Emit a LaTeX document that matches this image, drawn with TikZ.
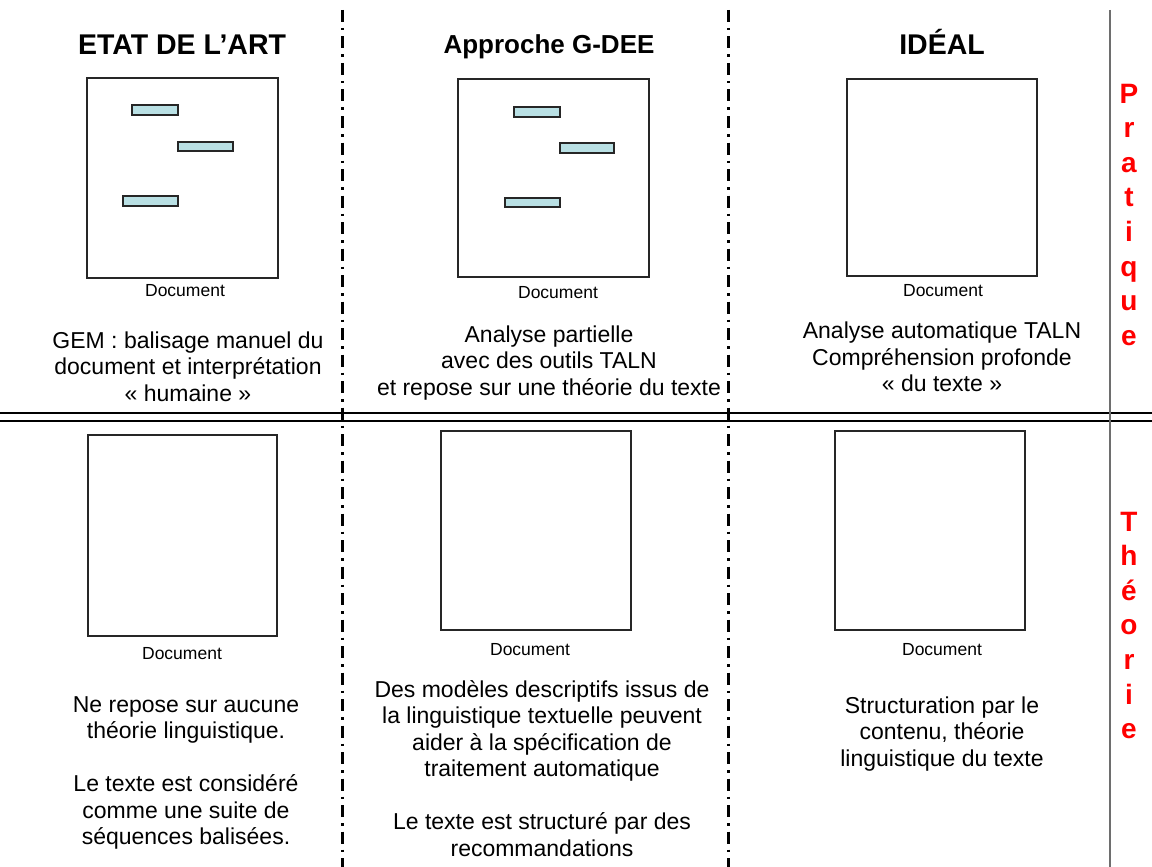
\documentclass[tikz,border=0pt]{standalone}
\usepackage{fontspec}
\setmainfont{Liberation Sans}
\usetikzlibrary{calc}
\definecolor{barfill}{RGB}{185,224,228}
\definecolor{sidegrey}{RGB}{110,110,110}

\begin{document}
\begin{tikzpicture}[x = 1pt, y = -1pt,
    title/.style = {font=\fontsize{28.5}{33}\selectfont\bfseries},
    doclabel/.style = {font=\fontsize{17.5}{20}\selectfont},
    comment/.style = {font=\fontsize{23}{26.5}\selectfont, align=center},
    docbox/.style = {draw=black!85, line width=1.3pt, inner sep=0pt},
    bar/.style = {draw=black!85, fill=barfill, line width=1.3pt},
    letter/.style = {font=\fontsize{28}{34}\selectfont\bfseries, text=red, anchor=base, inner sep=0pt},
    divider/.style = {line width=3pt, dash pattern=on 12pt off 6pt on 2.5pt off 6pt}]
    \useasboundingbox (0,0) rectangle (1152,867);

    % separateurs
    \draw[divider] (342,10) -- (342,867);
    \draw[divider] (728,10) -- (728,867);
    \draw[line width=1.3pt] (0,413) -- (1152,413);
    \draw[line width=1.3pt] (0,421) -- (1152,421);
    \draw[sidegrey, line width=2pt] (1110,10) -- (1110,867);

    % titres
    \node[title] (titleEtat) at (182,45) {ETAT DE L’ART};
    \node[title, font=\fontsize{26}{30}\selectfont\bfseries] (titleGdee) at (549,47) {Approche G-DEE};
    \node[title] (titleIdeal) at (942,42) {IDÉAL};

    % documents
    \foreach \cx/\cy/\w/\h [count=\i] in {182.5/178/191/200, 553.5/178/191/198, 942/177.5/190/197,
                                         182.5/535.5/189/201, 536/530.5/190/199, 930/530.5/190/199}{
        \node[docbox, minimum width=\w pt, minimum height=\h pt] (box\i) at (\cx,\cy) {};
    }
    \foreach \xa/\ya/\xb/\yb in {132/105/178/115, 178/142/233/151, 123/196/178/206,
                                 514/107/560/117, 560/143/614/153, 505/198/560/207}{
        \draw[bar] (\xa,\ya) rectangle (\xb,\yb);
    }
    \foreach \lx/\ly [count=\i] in {185/291, 558/293, 943/291, 182/654, 530/650, 942/650}{
        \node[doclabel] (doc\i) at (\lx,\ly) {Document};
    }

    % commentaires
    \node[comment] (gemText) at (188,366.5) {GEM : balisage manuel du\\document et interprétation\\« humaine »};
    \node[comment] (gdeeText) at (549,363) {Analyse partielle\\avec des outils TALN\\et repose sur une théorie du texte};
    \node[comment] (idealText) at (942,357) {Analyse automatique TALN\\Compréhension profonde\\« du texte »};
    \node[comment] (etatTheo) at (186,773) {Ne repose sur aucune\\théorie linguistique.\\[26.5pt]Le texte est considéré\\comme une suite de\\séquences balisées.};
    \node[comment] (gdeeTheo) at (542,768.5) {Des modèles descriptifs issus de\\la linguistique textuelle peuvent\\aider à la spécification de\\traitement automatique\\[26.5pt]Le texte est structuré par des\\recommandations};
    \node[comment] (idealTheo) at (942,734) {Structuration par le\\contenu, théorie\\linguistique du texte};

    % axe pratique / theorie
    \foreach \c [count=\i from 0] in {P,r,a,t,i,q,u,e}{
        \node[letter] (prat\i) at (1129,{103+34.6*\i}) {\c};
    }
    \foreach \c [count=\i from 0] in {T,h,é,o,r,i,e}{
        \node[letter] (theo\i) at (1129,{531+34.6*\i}) {\c};
    }
\end{tikzpicture}
\end{document}
